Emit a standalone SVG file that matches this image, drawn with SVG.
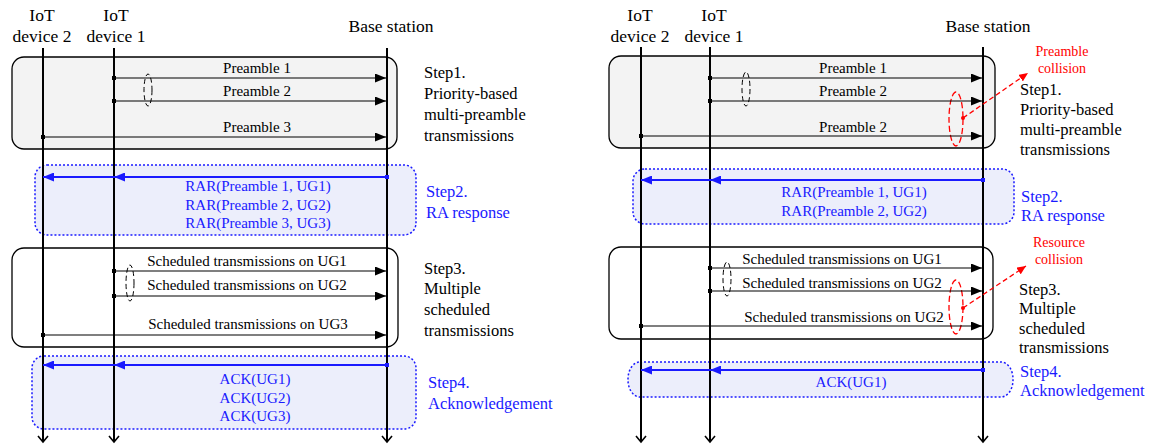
<svg xmlns="http://www.w3.org/2000/svg" width="1150" height="447" viewBox="0 0 1150 447">
<style>
text{font-family:"Liberation Serif","Times New Roman",serif;}
.hdr{font-size:17.5px;fill:#000;text-anchor:middle;}
.lbl{font-size:15px;fill:#000;text-anchor:middle;}
.blbl{font-size:15px;fill:#1a1aff;text-anchor:middle;}
.step{font-size:16.5px;fill:#000;}
.bstep{font-size:16.5px;fill:#1a1aff;}
.red{font-size:14px;fill:#ff0000;text-anchor:middle;}
.life{stroke:#000;stroke-width:2;fill:none;marker-end:url(#open);}
.box{fill:#f3f3f3;stroke:#000;stroke-width:1.3;}
.boxw{fill:#fff;stroke:#000;stroke-width:1.3;}
.bbox{fill:#eceefb;stroke:#1a1aff;stroke-width:1.5;stroke-dasharray:2,2;}
.msg{stroke:#000;stroke-width:1.2;fill:none;marker-end:url(#ah);}
.bmsg{stroke:#1a1aff;stroke-width:2;fill:none;marker-end:url(#bah);}
.sq{fill:#000;}
.bsq{fill:#1a1aff;}
.ell{fill:none;stroke:#000;stroke-width:1;stroke-dasharray:5,3;}
.rell{fill:none;stroke:#ff0000;stroke-width:1.3;stroke-dasharray:6,3;}
.rline{stroke:#ff0000;stroke-width:1.3;stroke-dasharray:5,3;fill:none;marker-end:url(#rah);}
</style>
<defs>
<marker id="ah" markerUnits="userSpaceOnUse" markerWidth="11" markerHeight="9" refX="11" refY="4.5" orient="auto"><path d="M0,0 L11,4.5 L0,9 z" fill="#000"/></marker>
<marker id="bah" markerUnits="userSpaceOnUse" markerWidth="11" markerHeight="9" refX="11" refY="4.5" orient="auto"><path d="M0,0 L11,4.5 L0,9 z" fill="#1a1aff"/></marker>
<marker id="rah" markerUnits="userSpaceOnUse" markerWidth="9" markerHeight="8" refX="9" refY="4" orient="auto"><path d="M0,0 L9,4 L0,8 z" fill="#ff0000"/></marker>
<marker id="open" markerUnits="userSpaceOnUse" markerWidth="12" markerHeight="12" refX="8" refY="6" orient="auto"><path d="M2,1 L8,6 L2,11" fill="none" stroke="#000" stroke-width="1.6"/></marker>
</defs>

<!-- ===== Left diagram ===== -->
<g id="L-step1">
<rect class="box" x="12" y="57" width="385" height="92" rx="12"/>
<text class="step" x="424" y="78">Step1.</text>
<text class="step" x="424" y="99">Priority-based</text>
<text class="step" x="424" y="120">multi-preamble</text>
<text class="step" x="424" y="141">transmissions</text>
</g>
<g id="L-step2">
<rect class="bbox" x="35" y="165" width="381" height="70" rx="12"/>
<text class="bstep" x="426" y="197">Step2.</text>
<text class="bstep" x="426" y="218">RA response</text>
</g>
<g id="L-step3">
<rect class="boxw" x="12" y="248" width="386" height="99" rx="12"/>
<text class="step" x="424" y="274">Step3.</text>
<text class="step" x="424" y="294">Multiple</text>
<text class="step" x="424" y="315">scheduled</text>
<text class="step" x="424" y="336">transmissions</text>
</g>
<g id="L-step4">
<rect class="bbox" x="32" y="356" width="384" height="73" rx="12"/>
<text class="bstep" x="428" y="388">Step4.</text>
<text class="bstep" x="428" y="409">Acknowledgement</text>
</g>
<g id="L-dev2">
<text class="hdr" x="42" y="21">IoT</text>
<text class="hdr" x="42" y="42">device 2</text>
<line class="life" x1="43" y1="48" x2="43" y2="442"/>
</g>
<g id="L-dev1">
<text class="hdr" x="116" y="21">IoT</text>
<text class="hdr" x="116" y="42">device 1</text>
<line class="life" x1="114" y1="48" x2="114" y2="442"/>
</g>
<g id="L-bs">
<text class="hdr" x="391" y="32">Base station</text>
<line class="life" x1="387" y1="48" x2="387" y2="442"/>
</g>
<g id="L-connectors">
<line class="msg" x1="114" y1="78" x2="386" y2="78"/><rect class="sq" x="112" y="76" width="4" height="4"/>
<text class="lbl" x="257" y="73">Preamble 1</text>
<line class="msg" x1="114" y1="101" x2="386" y2="101"/><rect class="sq" x="112" y="99" width="4" height="4"/>
<text class="lbl" x="257" y="96">Preamble 2</text>
<line class="msg" x1="43" y1="137" x2="386" y2="137"/><rect class="sq" x="41" y="135" width="4" height="4"/>
<text class="lbl" x="257" y="132">Preamble 3</text>
<ellipse class="ell" cx="148" cy="90" rx="4" ry="16"/>

<line class="bmsg" x1="387" y1="177" x2="114" y2="177"/>
<line class="bmsg" x1="114" y1="177" x2="43" y2="177"/>
<rect class="bsq" x="385" y="175" width="4" height="4"/>
<text class="blbl" x="258" y="191">RAR(Preamble 1, UG1)</text>
<text class="blbl" x="258" y="210">RAR(Preamble 2, UG2)</text>
<text class="blbl" x="258" y="228">RAR(Preamble 3, UG3)</text>

<line class="msg" x1="114" y1="271" x2="386" y2="271"/><rect class="sq" x="112" y="269" width="4" height="4"/>
<text class="lbl" x="247" y="266">Scheduled transmissions on UG1</text>
<line class="msg" x1="114" y1="296" x2="386" y2="296"/><rect class="sq" x="112" y="294" width="4" height="4"/>
<text class="lbl" x="247" y="290">Scheduled transmissions on UG2</text>
<line class="msg" x1="43" y1="335" x2="386" y2="335"/><rect class="sq" x="41" y="333" width="4" height="4"/>
<text class="lbl" x="248" y="329">Scheduled transmissions on UG3</text>
<ellipse class="ell" cx="130" cy="283" rx="4" ry="18"/>

<line class="bmsg" x1="387" y1="365" x2="114" y2="365"/>
<line class="bmsg" x1="114" y1="365" x2="43" y2="365"/>
<rect class="bsq" x="385" y="363" width="4" height="4"/>
<text class="blbl" x="255" y="384">ACK(UG1)</text>
<text class="blbl" x="255" y="403">ACK(UG2)</text>
<text class="blbl" x="255" y="421">ACK(UG3)</text>
</g>

<!-- ===== Right diagram ===== -->
<g id="R-step1">
<rect class="box" x="609" y="56" width="386" height="92" rx="12"/>
<text class="step" x="1020" y="95">Step1.</text>
<text class="step" x="1020" y="115">Priority-based</text>
<text class="step" x="1020" y="135">multi-preamble</text>
<text class="step" x="1020" y="155">transmissions</text>
</g>
<g id="R-step2">
<rect class="bbox" x="633" y="169" width="381" height="55" rx="12"/>
<text class="bstep" x="1021" y="202">Step2.</text>
<text class="bstep" x="1021" y="221">RA response</text>
</g>
<g id="R-step3">
<rect class="boxw" x="609" y="247" width="384" height="92" rx="12"/>
<text class="step" x="1019" y="295">Step3.</text>
<text class="step" x="1019" y="314">Multiple</text>
<text class="step" x="1019" y="334">scheduled</text>
<text class="step" x="1019" y="353">transmissions</text>
</g>
<g id="R-step4">
<rect class="bbox" x="628" y="362" width="385" height="35" rx="12" ry="17"/>
<text class="bstep" x="1020" y="377">Step4.</text>
<text class="bstep" x="1020" y="396">Acknowledgement</text>
</g>
<g id="R-dev2">
<text class="hdr" x="640" y="21">IoT</text>
<text class="hdr" x="640" y="42">device 2</text>
<line class="life" x1="641" y1="47" x2="641" y2="442"/>
</g>
<g id="R-dev1">
<text class="hdr" x="714" y="21">IoT</text>
<text class="hdr" x="714" y="42">device 1</text>
<line class="life" x1="710" y1="47" x2="710" y2="442"/>
</g>
<g id="R-bs">
<text class="hdr" x="988" y="32">Base station</text>
<line class="life" x1="983" y1="47" x2="983" y2="442"/>
</g>
<g id="R-collision1">
<ellipse class="rell" cx="956" cy="119" rx="7" ry="27"/>
<text class="red" x="1062" y="56">Preamble</text>
<text class="red" x="1062" y="73">collision</text>
</g>
<g id="R-collision2">
<ellipse class="rell" cx="956" cy="307" rx="7" ry="27"/>
<text class="red" x="1059" y="247">Resource</text>
<text class="red" x="1059" y="264">collision</text>
</g>
<g id="R-connectors">
<line class="msg" x1="710" y1="78" x2="982" y2="78"/><rect class="sq" x="708" y="76" width="4" height="4"/>
<text class="lbl" x="853" y="73">Preamble 1</text>
<line class="msg" x1="710" y1="101" x2="982" y2="101"/><rect class="sq" x="708" y="99" width="4" height="4"/>
<text class="lbl" x="853" y="96">Preamble 2</text>
<line class="msg" x1="641" y1="136" x2="982" y2="136"/><rect class="sq" x="639" y="134" width="4" height="4"/>
<text class="lbl" x="853" y="132">Preamble 2</text>
<ellipse class="ell" cx="746" cy="89" rx="4" ry="17"/>
<circle cx="963" cy="118" r="2" fill="#ff0000"/>
<line class="rline" x1="963" y1="118" x2="1028" y2="73"/>

<line class="bmsg" x1="983" y1="180" x2="710" y2="180"/>
<line class="bmsg" x1="710" y1="180" x2="641" y2="180"/>
<rect class="bsq" x="981" y="178" width="4" height="4"/>
<text class="blbl" x="854" y="197">RAR(Preamble 1, UG1)</text>
<text class="blbl" x="854" y="216">RAR(Preamble 2, UG2)</text>

<line class="msg" x1="710" y1="268" x2="982" y2="268"/><rect class="sq" x="708" y="266" width="4" height="4"/>
<text class="lbl" x="842" y="264">Scheduled transmissions on UG1</text>
<line class="msg" x1="710" y1="291" x2="982" y2="291"/><rect class="sq" x="708" y="289" width="4" height="4"/>
<text class="lbl" x="842" y="288">Scheduled transmissions on UG2</text>
<line class="msg" x1="641" y1="326" x2="982" y2="326"/><rect class="sq" x="639" y="324" width="4" height="4"/>
<text class="lbl" x="844" y="322">Scheduled transmissions on UG2</text>
<ellipse class="ell" cx="727" cy="279" rx="4" ry="17"/>
<circle cx="963" cy="308" r="2" fill="#ff0000"/>
<line class="rline" x1="963" y1="308" x2="1026" y2="266"/>

<line class="bmsg" x1="983" y1="370" x2="710" y2="370"/>
<line class="bmsg" x1="710" y1="370" x2="641" y2="370"/>
<rect class="bsq" x="981" y="368" width="4" height="4"/>
<text class="blbl" x="851" y="387">ACK(UG1)</text>
</g>
</svg>
